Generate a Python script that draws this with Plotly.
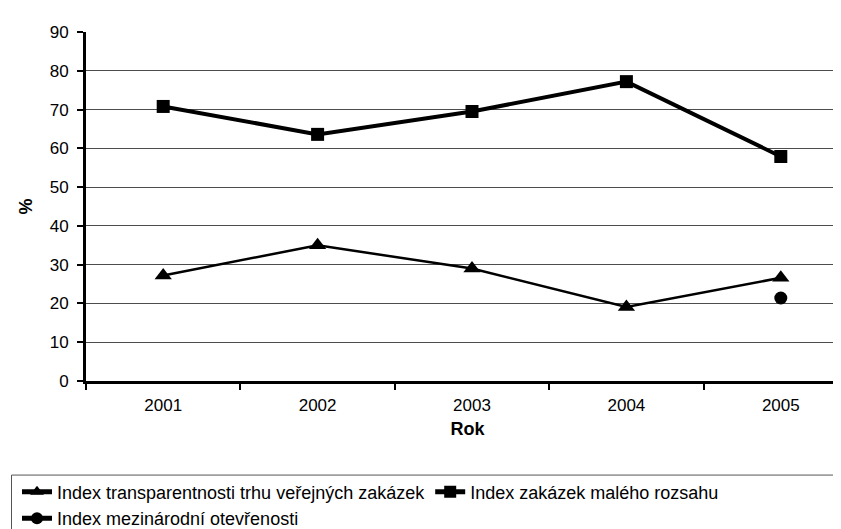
import plotly.graph_objects as go

years = ["2001", "2002", "2003", "2004", "2005"]
transparency = [27.2, 35.0, 29.0, 19.1, 26.6]
small_contracts = [70.8, 63.6, 69.5, 77.2, 57.9]
openness_years = ["2005"]
openness = [21.4]

y_ticks = [0, 10, 20, 30, 40, 50, 60, 70, 80, 90]

FONT = "Liberation Sans, Arial, sans-serif"
W, H = 841, 529
L, R, T, B = 78, 0, 24, 147
pw, ph = W - L - R, H - T - B

def px_x(p):
    return (p - L) / pw

def px_y(p):
    return (H - B - p) / ph

fig = go.Figure()
fig.add_trace(go.Scatter(
    x=years, y=transparency, mode="lines+markers",
    name="Index transparentnosti trhu veřejných zakázek",
    line=dict(color="black", width=2.5),
    marker=dict(symbol="triangle-up", size=15, color="black"),
))
fig.add_trace(go.Scatter(
    x=years, y=small_contracts, mode="lines+markers",
    name="Index zakázek malého rozsahu",
    line=dict(color="black", width=4),
    marker=dict(symbol="square", size=13, color="black"),
))
fig.add_trace(go.Scatter(
    x=openness_years, y=openness, mode="lines+markers",
    name="Index mezinárodní otevřenosti",
    line=dict(color="black", width=2),
    marker=dict(symbol="circle", size=13, color="black"),
))

fig.update_layout(
    width=W, height=H,
    margin=dict(l=L, r=R, t=T, b=B),
    paper_bgcolor="white", plot_bgcolor="white",
    font=dict(family=FONT, size=17, color="black"),
    showlegend=True,
    legend=dict(
        orientation="h", x=px_x(9), xanchor="left", y=px_y(477), yanchor="top",
        font=dict(family=FONT, size=18, color="black"),
        bgcolor="rgba(0,0,0,0)", borderwidth=0,
        traceorder="normal", itemsizing="constant",
    ),
    xaxis=dict(
        type="category", categoryorder="array", categoryarray=years,
        range=[-0.5, -0.5 + pw / 154.4],
        showline=True, linecolor="black", linewidth=3,
        ticks="outside", tickson="boundaries", ticklen=6, tickwidth=2, tickcolor="black",
        ticklabelstandoff=7,
        showgrid=False, zeroline=False,
        title=dict(text="<b>Rok</b>", font=dict(size=18), standoff=8),
        automargin=False,
    ),
    yaxis=dict(
        range=[0, 90], tickvals=y_ticks,
        showline=True, linecolor="black", linewidth=3,
        ticks="outside", ticklen=6, tickwidth=2, tickcolor="black",
        ticklabelstandoff=5,
        showgrid=True, gridcolor="#4d4d4d", gridwidth=1,
        zeroline=False,
        title=dict(text="<b>%</b>", font=dict(size=18), standoff=13),
        automargin=False,
    ),
    shapes=[dict(
        type="rect", xref="paper", yref="paper",
        x0=px_x(3.5), x1=px_x(850), y0=px_y(478.5), y1=px_y(560),
        line=dict(color="#555555", width=1), fillcolor="rgba(0,0,0,0)",
    )],
)

fig.write_html("out.html")
